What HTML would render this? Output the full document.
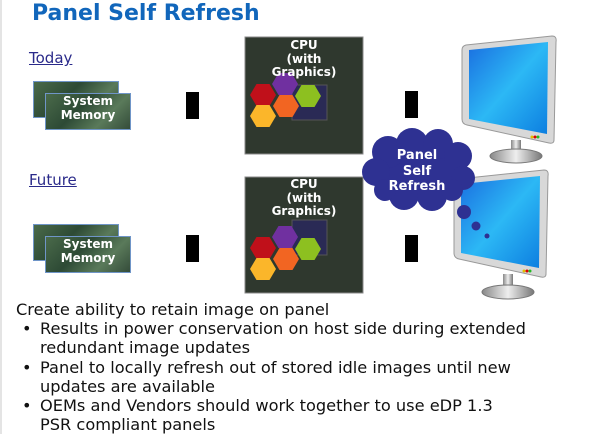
<!DOCTYPE html>
<html><head><meta charset="utf-8"><style>
body{margin:0;width:600px;height:434px;background:#fff;position:relative;overflow:hidden;font-family:"DejaVu Sans",Verdana,sans-serif}
.a{position:absolute}
.title{left:32px;top:1px;font:bold 22px "DejaVu Sans",Verdana,sans-serif;color:#1166bb}
.lnk{font-size:15px;color:#2a2a8a;text-decoration:underline}
.bar{background:#000;width:13px;height:27px}
.txt{left:16px;top:300px;font-size:16.2px;line-height:19.2px;color:#111}
.txt div.b{padding-left:24px;position:relative}
.txt div.b:before{content:"•";position:absolute;left:6px}
.mem{width:84px;height:35px;background:linear-gradient(135deg,#4a6a4a,#2d4a35 40%,#5a7a5a 70%,#344c3a);border:1px solid #6f95c8}
.ct{color:#fff;font-weight:bold;font-size:12px;text-align:center;line-height:13.5px;width:118px}
</style></head><body>
<div style="position:absolute;left:0;top:0;width:2px;height:434px;background:#e4e4e4"></div>
<div class="a title">Panel Self Refresh</div>
<div class="a lnk" style="left:29px;top:49px">Today</div>
<div class="a lnk" style="left:29px;top:171px">Future</div>

<div class="a mem" style="left:33px;top:81px"></div>
<div class="a mem" style="left:45px;top:93px"></div>
<div class="a" style="left:45px;top:94px;width:86px;text-align:center;color:#fff;font-weight:bold;font-size:12px;line-height:14px">System<br>Memory</div>
<div class="a mem" style="left:33px;top:224px"></div>
<div class="a mem" style="left:45px;top:236px"></div>
<div class="a" style="left:45px;top:237px;width:86px;text-align:center;color:#fff;font-weight:bold;font-size:12px;line-height:14px">System<br>Memory</div>

<div class="a bar" style="left:186px;top:92px"></div>
<div class="a bar" style="left:186px;top:235px"></div>
<div class="a bar" style="left:405px;top:91px"></div>
<div class="a bar" style="left:405px;top:235px"></div>

<svg class="a" style="left:0;top:0" width="600" height="434">
<defs>
<linearGradient id="scr" x1="0" y1="0" x2="1" y2="1"><stop offset="0" stop-color="#1a6ee0"/><stop offset="0.5" stop-color="#2cb8f5"/><stop offset="1" stop-color="#0d7ee0"/></linearGradient>
<linearGradient id="st" x1="0" x2="1"><stop offset="0" stop-color="#888"/><stop offset=".5" stop-color="#eee"/><stop offset="1" stop-color="#777"/></linearGradient>
<g id="hex"><polygon points="-13,0 -6.5,-11 6.5,-11 13,0 6.5,11 -6.5,11"/></g>
</defs>
<rect x="245" y="37" width="118" height="117" fill="#2f382e" stroke="#888"/>
<rect x="245" y="177" width="118" height="116" fill="#2f382e" stroke="#888"/>
<rect x="292" y="85" width="35" height="35" fill="#2a2a55" stroke="#555"/>
<rect x="292" y="220" width="35" height="35" fill="#2a2a55" stroke="#555"/>
<g>
<use href="#hex" x="263" y="95" fill="#c0101a"/><use href="#hex" x="285" y="84" fill="#7030a0"/>
<use href="#hex" x="308" y="96" fill="#8dc020"/><use href="#hex" x="286" y="106" fill="#f26522"/>
<use href="#hex" x="263" y="116" fill="#fbb62a"/>
</g>
<g transform="translate(0,153)">
<use href="#hex" x="263" y="95" fill="#c0101a"/><use href="#hex" x="285" y="84" fill="#7030a0"/>
<use href="#hex" x="308" y="96" fill="#8dc020"/><use href="#hex" x="286" y="106" fill="#f26522"/>
<use href="#hex" x="263" y="116" fill="#fbb62a"/>
</g>
<g>
<path d="M466,45 L552,36 Q557,36 556,42 L554,140 Q554,144 549,143 L467,125 Q462,124 462,119 L462,50 Q462,46 466,45Z" fill="#d8d8d8" stroke="#999"/>
<path d="M469,50 L548,42 L547,134 L469,119Z" fill="url(#scr)"/>
<rect x="511" y="140" width="10" height="14" fill="url(#st)"/>
<ellipse cx="516" cy="156" rx="26" ry="7" fill="url(#st)" stroke="#777"/>
<circle cx="532" cy="137" r="1.5" fill="#e0c000"/><circle cx="535" cy="137" r="1.5" fill="#d00"/><circle cx="538" cy="137" r="1.5" fill="#2b2"/>
</g>
<g transform="translate(-8,134)">
<path d="M466,45 L552,36 Q557,36 556,42 L554,140 Q554,144 549,143 L467,125 Q462,124 462,119 L462,50 Q462,46 466,45Z" fill="#d8d8d8" stroke="#999"/>
<path d="M469,50 L548,42 L547,134 L469,119Z" fill="url(#scr)"/>
<rect x="511" y="140" width="10" height="14" fill="url(#st)"/>
<ellipse cx="516" cy="158" rx="26" ry="7" fill="url(#st)" stroke="#777"/>
<circle cx="532" cy="137" r="1.5" fill="#e0c000"/><circle cx="535" cy="137" r="1.5" fill="#d00"/><circle cx="538" cy="137" r="1.5" fill="#2b2"/>
</g>
<g fill="#2e3192">
<ellipse cx="418" cy="172" rx="50" ry="28"/>
<circle cx="388" cy="152" r="16"/><circle cx="412" cy="144" r="16"/><circle cx="438" cy="144" r="15"/><circle cx="458" cy="156" r="14"/>
<circle cx="376" cy="172" r="14"/><circle cx="463" cy="178" r="12"/><circle cx="404" cy="195" r="15"/><circle cx="432" cy="196" r="15"/><circle cx="385" cy="190" r="11"/><circle cx="452" cy="190" r="11"/>
<circle cx="464" cy="212" r="7"/><circle cx="476" cy="226" r="4.5"/><circle cx="487" cy="236" r="2.5"/>
</g>
</svg>
<div class="a" style="left:375px;top:148px;width:84px;text-align:center;color:#fff;font-weight:bold;font-size:13px;line-height:15.5px">Panel<br>Self<br>Refresh</div>
<div class="a ct" style="left:245px;top:39px">CPU<br>(with<br>Graphics)</div>
<div class="a ct" style="left:245px;top:178px">CPU<br>(with<br>Graphics)</div>

<div class="a txt">
<div>Create ability to retain image on panel</div>
<div class="b">Results in power conservation on host side during extended<br>redundant image updates</div>
<div class="b">Panel to locally refresh out of stored idle images until new<br>updates are available</div>
<div class="b">OEMs and Vendors should work together to use eDP 1.3<br>PSR compliant panels</div>
</div>
</body></html>
